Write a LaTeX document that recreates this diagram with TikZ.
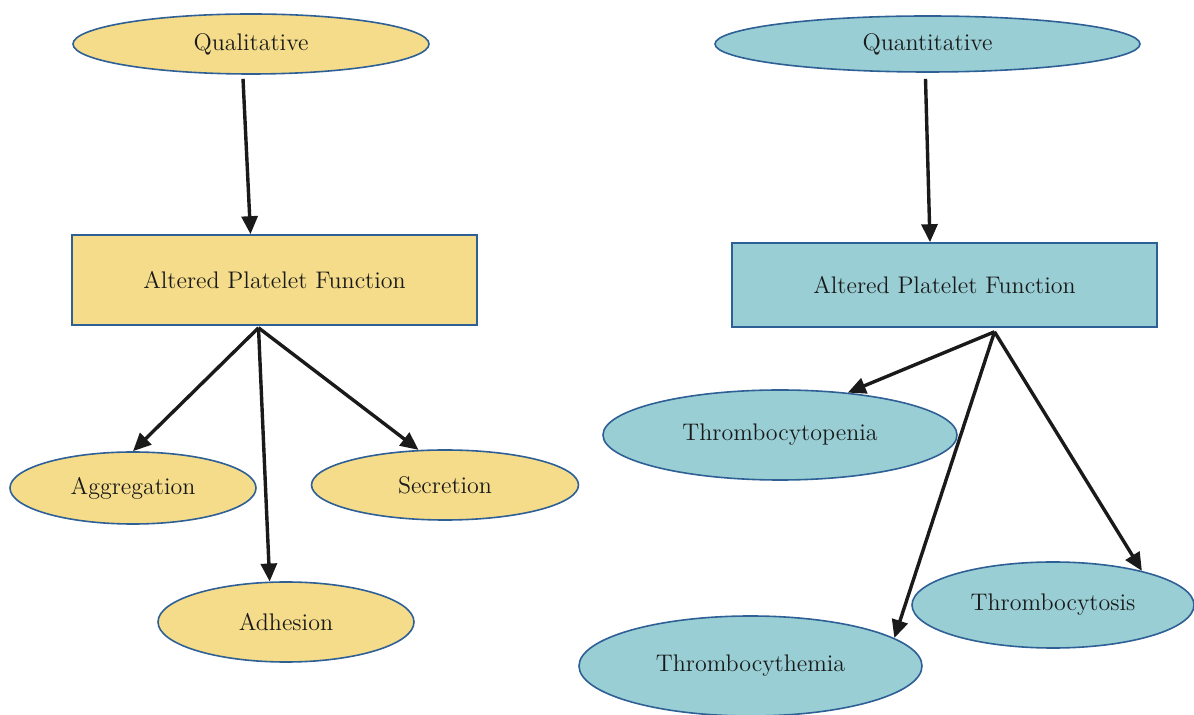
\documentclass[tikz,border=0pt]{standalone}
\usetikzlibrary{shapes.geometric,arrows.meta}
\definecolor{yel}{HTML}{F4DC8A}
\definecolor{blu}{HTML}{99CED5}
\definecolor{edge}{HTML}{2E6096}
\definecolor{ink}{HTML}{1A1A1A}
\tikzset{
  oval/.style={ellipse,draw=edge,line width=0.8pt,inner sep=0pt,text=ink,font=\fontsize{12}{14}\selectfont},
  boxnode/.style={rectangle,draw=edge,line width=0.8pt,inner sep=0pt,text=ink,font=\fontsize{12}{14}\selectfont},
  arr/.style={draw=ink,line width=1.7pt,-{Triangle[length=9pt,width=8pt]}}
}
\begin{document}
\begin{tikzpicture}[x=0.5pt,y=-0.5pt]
\useasboundingbox (0,0) rectangle (1194,715);
% left
\node[oval,fill=yel,minimum width=178pt,minimum height=30pt] (qual) at (251,44) {Qualitative};
\node[boxnode,fill=yel,minimum width=202.5pt,minimum height=45pt] (rectL) at (274.5,280) {Altered Platelet Function};
\node[oval,fill=yel,minimum width=123pt,minimum height=36pt] (aggr) at (133,488) {Aggregation};
\node[oval,fill=yel,minimum width=133.5pt,minimum height=35pt] (secr) at (445,485) {Secretion};
\node[oval,fill=yel,minimum width=128pt,minimum height=40pt] (adhe) at (286,622) {Adhesion};
% right
\node[oval,fill=blu,minimum width=212.5pt,minimum height=28pt] (quan) at (927.5,44) {Quantitative};
\node[boxnode,fill=blu,minimum width=212.5pt,minimum height=42pt] (rectR) at (944.5,285) {Altered Platelet Function};
\node[oval,fill=blu,minimum width=177pt,minimum height=45pt] (tpen) at (780,435) {Thrombocytopenia};
\node[oval,fill=blu,minimum width=141pt,minimum height=43pt] (tosis) at (1053,605) {Thrombocytosis};
\node[oval,fill=blu,minimum width=171.5pt,minimum height=50pt] (them) at (750.5,666) {Thrombocythemia};
% hubs
\coordinate (hubL) at ([xshift=-8pt,yshift=-1pt]rectL.south);
\coordinate (hubR) at ([xshift=25pt,yshift=-2pt]rectR.south);
% arrows
\draw[arr] ([xshift=-4pt,yshift=-2pt]qual.south) -- ([xshift=-12pt]rectL.north);
\draw[arr] ([xshift=-1pt,yshift=-3pt]quan.south) -- ([xshift=-7.25pt]rectR.north);
\draw[arr] (hubL) -- (aggr.north);
\draw[arr] (hubL) -- (adhe.112);
\draw[arr] (hubL) -- (secr.127);
\draw[arr] (hubR) -- (tpen.32);
\draw[arr] (hubR) -- (them.11);
\draw[arr] (hubR) -- (tosis.21);
\end{tikzpicture}
\end{document}
